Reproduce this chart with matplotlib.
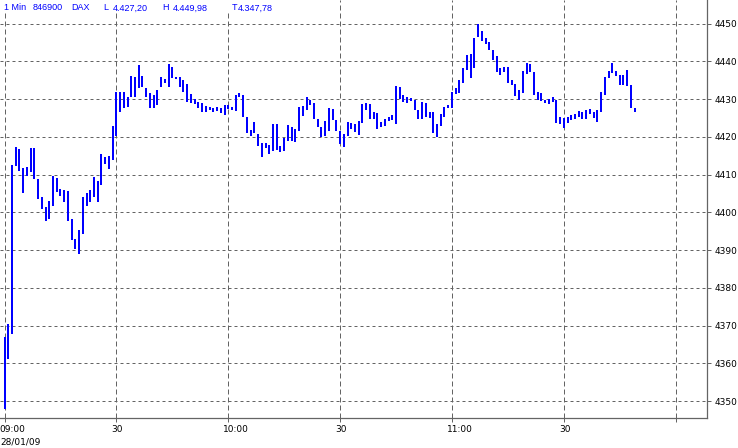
import numpy as np
import matplotlib.pyplot as plt
from matplotlib.patches import Rectangle
from matplotlib.transforms import ScaledTranslation

# 1-minute DAX bars, 09:00 onward (high / low)
high = [4367.0, 4370.4, 4412.5, 4417.4, 4416.8, 4411.8, 4412.0, 4417.0, 4417.0, 4408.8,
        4404.0, 4401.4, 4403.0, 4409.6, 4409.1, 4406.2, 4405.9, 4405.6, 4398.2, 4392.9,
        4395.3, 4404.1, 4405.1, 4405.9, 4409.4, 4408.3, 4415.5, 4414.7, 4415.0, 4423.0,
        4432.0, 4431.9, 4431.9, 4430.7, 4436.1, 4436.0, 4439.0, 4436.1, 4433.0, 4431.6,
        4431.1, 4432.5, 4435.9, 4435.4, 4439.3, 4438.6, 4435.9, 4436.0, 4435.0, 4434.0,
        4431.4, 4430.0, 4429.3, 4428.9, 4428.3, 4427.9, 4427.7, 4428.0, 4427.6, 4428.6,
        4428.4, 4428.0, 4431.1, 4431.6, 4431.1, 4425.4, 4421.8, 4424.0, 4420.7, 4418.5,
        4418.4, 4417.8, 4423.3, 4423.3, 4417.5, 4419.6, 4423.2, 4422.6, 4422.1, 4427.9,
        4428.2, 4430.6, 4429.8, 4429.0, 4424.7, 4422.6, 4424.2, 4427.6, 4427.4, 4424.5,
        4421.6, 4420.8, 4423.9, 4423.7, 4423.4, 4424.2, 4428.7, 4429.1, 4428.7, 4426.6,
        4426.3, 4424.0, 4424.7, 4425.3, 4425.7, 4433.5, 4433.2, 4431.1, 4430.6, 4430.2,
        4429.8, 4427.1, 4429.2, 4429.0, 4426.6, 4426.6, 4423.4, 4426.1, 4428.0, 4428.4,
        4431.8, 4433.0, 4435.0, 4438.2, 4441.7, 4442.0, 4446.3, 4450.0, 4448.1, 4446.3,
        4445.1, 4443.0, 4441.4, 4438.4, 4438.6, 4438.6, 4435.0, 4434.0, 4432.4, 4437.5,
        4439.6, 4439.3, 4437.2, 4431.9, 4431.6, 4429.8, 4430.0, 4430.7, 4429.8, 4425.4,
        4424.9, 4425.4, 4425.8, 4426.1, 4426.9, 4426.7, 4427.1, 4427.3, 4426.7, 4427.1,
        4431.8, 4436.0, 4437.5, 4439.5, 4437.5, 4436.4, 4436.4, 4437.7, 4433.8, 4427.6]
low = [4347.8, 4361.2, 4367.8, 4412.4, 4411.0, 4405.2, 4409.6, 4410.8, 4408.8, 4403.5,
       4400.9, 4397.8, 4398.3, 4401.7, 4405.4, 4404.3, 4402.7, 4397.6, 4392.7, 4390.3,
       4389.0, 4394.3, 4401.7, 4402.7, 4404.0, 4402.7, 4407.3, 4412.9, 4411.5, 4414.0,
       4420.2, 4426.7, 4427.6, 4428.0, 4430.6, 4430.5, 4433.0, 4433.2, 4430.6, 4427.7,
       4427.6, 4428.5, 4433.2, 4434.3, 4433.2, 4435.5, 4435.3, 4433.2, 4431.9, 4429.3,
       4428.9, 4428.7, 4427.6, 4426.7, 4426.7, 4427.1, 4426.7, 4426.9, 4426.3, 4425.8,
       4427.3, 4427.1, 4427.0, 4430.7, 4425.4, 4421.1, 4420.2, 4421.0, 4417.7, 4414.7,
       4417.0, 4415.4, 4416.3, 4416.5, 4416.1, 4416.3, 4418.9, 4418.9, 4418.6, 4421.6,
       4425.5, 4427.1, 4428.5, 4424.7, 4422.6, 4420.1, 4420.2, 4421.6, 4424.5, 4421.6,
       4418.0, 4417.4, 4420.2, 4422.1, 4421.3, 4420.5, 4423.7, 4427.1, 4424.7, 4424.7,
       4422.1, 4422.6, 4422.9, 4424.2, 4424.5, 4423.4, 4430.0, 4429.3, 4429.0, 4429.5,
       4427.1, 4424.7, 4424.7, 4425.3, 4425.0, 4421.0, 4420.1, 4422.9, 4425.3, 4427.6,
       4427.7, 4431.4, 4431.6, 4434.2, 4437.7, 4435.7, 4438.4, 4446.6, 4445.5, 4444.6,
       4443.1, 4440.4, 4437.2, 4436.4, 4437.3, 4434.2, 4433.8, 4430.8, 4429.8, 4431.6,
       4436.8, 4437.1, 4431.1, 4429.8, 4429.5, 4428.9, 4428.7, 4429.2, 4423.8, 4423.3,
       4422.3, 4423.8, 4424.5, 4424.7, 4425.4, 4424.7, 4424.7, 4426.0, 4424.9, 4424.0,
       4426.7, 4431.1, 4435.7, 4436.9, 4436.2, 4433.9, 4433.8, 4433.6, 4427.6, 4426.5]

time_ticks = [0, 30, 60, 90, 120, 150, 180]
time_labels = ["09:00", "30", "10:00", "30", "11:00", "30", ""]
price_ticks = [4350, 4360, 4370, 4380, 4390, 4400, 4410, 4420, 4430, 4440, 4450]

header = [(4, "1 Min"), (33, "846900"), (71, "DAX"), (103, "L"), (113, "4.427,20"),
          (162, "H"), (173, "4.449,98"), (232, "T"), (238, "4.347,78")]

W, H = 738, 448
grey = "#646464"
blue = "#0000ff"

fig = plt.figure(figsize=(W / 100, H / 100), dpi=100)
ax = fig.add_axes([0, 30 / H, 707 / W, 418 / H])

minutes = np.arange(len(high))
ax.vlines(minutes, low, high, color=blue, lw=1.3, antialiased=False, zorder=3)

ax.set_xlim(-1.21, 188.4)
ax.set_ylim(4345.5, 4456.3)

ax.set_xticks(time_ticks)
ax.set_xticklabels(time_labels)
ax.set_yticks(price_ticks)
ax.yaxis.tick_right()

ax.xaxis.grid(True, color=grey, lw=0.72, ls=(0, (5, 3)))
ax.yaxis.grid(True, color=grey, lw=0.72, ls=(0, (3, 3)))

for s in ["left", "top"]:
    ax.spines[s].set_visible(False)
for s in ["bottom", "right"]:
    ax.spines[s].set_color(grey)
    ax.spines[s].set_linewidth(0.9)

ax.tick_params(axis="x", length=3, width=0.72, color=grey, labelsize=6.5, pad=2)
ax.tick_params(axis="y", length=3, width=0.72, color=grey, labelsize=6.5, pad=2.5)

shift = ScaledTranslation(-5 / 100, 0, fig.dpi_scale_trans)
for lab in ax.get_xticklabels():
    lab.set_horizontalalignment("left")
    lab.set_transform(lab.get_transform() + shift)

fig.text(0, 1 - 444 / H, "28/01/09", fontsize=6.5, va="baseline", ha="left")

# white band behind the header
fig.patches.append(Rectangle((0, 1 - 12 / H), 285 / W, 12 / H, transform=fig.transFigure,
                             facecolor="white", edgecolor="none", zorder=5))
for x, s in header:
    fig.text(x / W, 1 - 10.5 / H, s, fontsize=6.5, family="Liberation Sans",
             color=blue, va="baseline", ha="left", zorder=6)

fig.savefig("out.png", dpi=100)
